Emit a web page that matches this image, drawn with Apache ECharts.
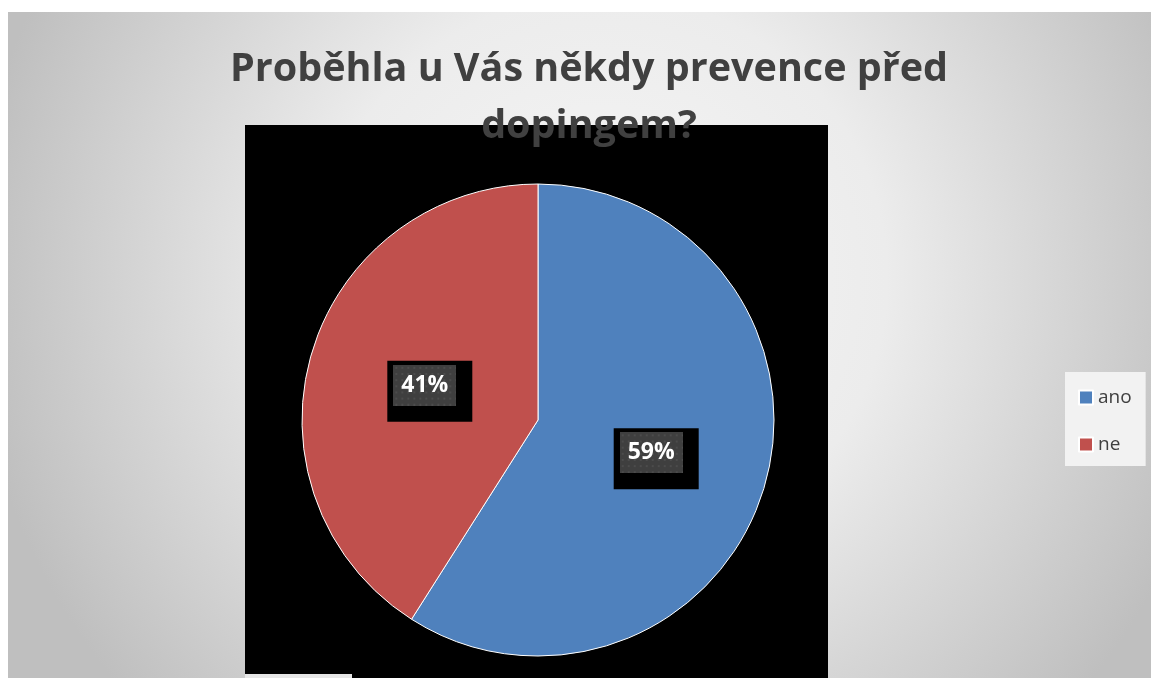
<!DOCTYPE html>
<html>
<head>
<meta charset="utf-8">
<title>Proběhla u Vás někdy prevence před dopingem?</title>
<script src="https://cdn.jsdelivr.net/npm/echarts@6/dist/echarts.min.js"></script>
<style>
  html, body { margin: 0; padding: 0; background: #fff; }
  #chart { width: 1151px; height: 678px; }
</style>
</head>
<body>
<div id="chart"></div>
<script>
// data
var titleText = 'Proběhla u Vás někdy prevence před\ndopingem?';
var categories = ['ano', 'ne'];
var values = [59, 41];
var colors = ['#4F81BD', '#C0504D'];
var labelOffsets = [[2, 5], [8, 5]];

// dotted grey fill for the label boxes
function dotPattern(w, h) {
    var c = document.createElement('canvas');
    c.width = w;
    c.height = h;
    var ctx = c.getContext('2d');
    ctx.fillStyle = '#3f3f3f';
    ctx.fillRect(0, 0, w, h);
    ctx.fillStyle = '#4c4c4c';
    for (var y = 2; y < h; y += 6) {
        for (var x = 2; x < w; x += 6) {
            ctx.fillRect(x, y, 2, 2);
        }
    }
    return c;
}
var labelBg = dotPattern(63, 40);

var chart = echarts.init(document.getElementById('chart'));
var font = "'Open Sans', sans-serif";

var option = {
    animation: false,
    color: colors,
    graphic: [
        {
            type: 'rect',
            z: -10,
            shape: { x: 8, y: 12, width: 1143, height: 666 },
            style: {
                fill: new echarts.graphic.RadialGradient(0.52, 0.4, 0.95, [
                    { offset: 0, color: '#f6f6f6' },
                    { offset: 0.45, color: '#ececec' },
                    { offset: 1, color: '#bfbfbf' }
                ])
            }
        },
        {
            type: 'rect',
            z: -9,
            shape: { x: 245, y: 125, width: 583, height: 553 },
            style: { fill: '#000' }
        },
        {
            type: 'rect',
            z: -8,
            shape: { x: 245, y: 674, width: 107, height: 4 },
            style: { fill: '#e6e6e6' }
        }
    ],
    title: {
        text: titleText,
        left: 584,
        textAlign: 'center',
        top: 36,
        textStyle: {
            fontFamily: font,
            fontSize: 39.5,
            fontWeight: 'bold',
            color: '#404040',
            lineHeight: 57
        }
    },
    legend: {
        orient: 'vertical',
        left: 1065,
        top: 372,
        backgroundColor: '#f2f2f2',
        padding: [16, 14, 12, 13],
        itemWidth: 14,
        itemHeight: 14,
        itemGap: 28,
        icon: 'rect',
        data: categories,
        textStyle: {
            fontFamily: font,
            fontSize: 19,
            color: '#404040'
        }
    },
    series: [{
        type: 'pie',
        center: [538, 420],
        radius: 236,
        startAngle: 90,
        clockwise: true,
        avoidLabelOverlap: false,
        itemStyle: { borderColor: '#ffffff', borderWidth: 1 },
        label: {
            show: true,
            position: 'inside',
            backgroundColor: '#000',
            padding: [4, 16, 16, 6],
            formatter: function (p) {
                return '{t|' + Math.round(p.percent) + '%}';
            },
            rich: {
                t: {
                    backgroundColor: { image: labelBg },
                    width: 63,
                    height: 41,
                    align: 'center',
                    color: '#fff',
                    fontSize: 23,
                    fontWeight: 'bold',
                    fontFamily: font
                }
            }
        },
        labelLine: { show: false },
        emphasis: { disabled: true },
        data: categories.map(function (name, i) {
            return { name: name, value: values[i], label: { offset: labelOffsets[i] } };
        })
    }]
};

chart.setOption(option);
</script>
</body>
</html>
